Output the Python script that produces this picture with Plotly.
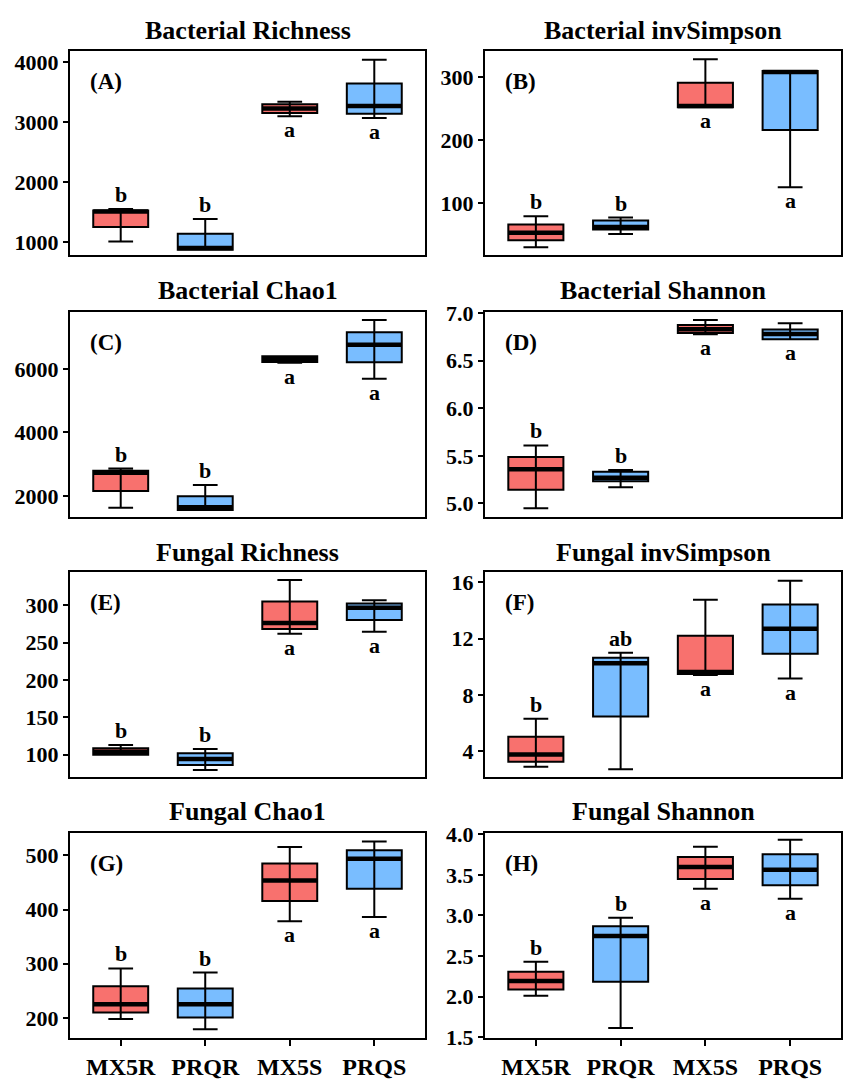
import plotly.graph_objects as go

groups = ["MX5R", "PRQR", "MX5S", "PRQS"]
fills = ["#F8716E", "#79BDFF", "#F8716E", "#79BDFF"]

# box summaries (lower whisker, q1, median, q3, upper whisker)
bac_rich = {"lower": [1010, 870, 3100, 3070], "q1": [1250, 870, 3155, 3140],
            "med": [1510, 900, 3230, 3270], "q3": [1525, 1140, 3300, 3645],
            "upper": [1550, 1385, 3340, 4040]}
bac_invs = {"lower": [30, 51, 252, 125], "q1": [41, 58, 252, 216],
            "med": [53, 62, 254, 308], "q3": [66, 72.5, 291, 309.5],
            "upper": [79, 77, 328, 309.5]}
bac_chao = {"lower": [1620, 1556, 6200, 5700], "q1": [2155, 1556, 6225, 6215],
            "med": [2730, 1640, 6330, 6770], "q3": [2795, 1990, 6410, 7165],
            "upper": [2860, 2340, 6410, 7550]}
bac_shan = {"lower": [4.95, 5.17, 6.777, 6.726], "q1": [5.144, 5.233, 6.79, 6.726],
            "med": [5.36, 5.27, 6.83, 6.78], "q3": [5.487, 5.333, 6.876, 6.828],
            "upper": [5.61, 5.35, 6.928, 6.894]}
fun_rich = {"lower": [100, 79.5, 261.6, 264.6], "q1": [100, 86, 268, 280.3],
            "med": [104, 94, 276, 296.5], "q3": [108.7, 101.7, 305, 302.2],
            "upper": [113, 107.4, 333.6, 306.6]}
fun_invs = {"lower": [2.91, 2.73, 9.42, 9.17], "q1": [3.26, 6.48, 9.49, 10.93],
            "med": [3.77, 10.25, 9.63, 12.7], "q3": [5.04, 10.65, 12.2, 14.42],
            "upper": [6.32, 11.0, 14.77, 16.12]}
fun_chao = {"lower": [198, 179, 378.6, 386.4], "q1": [210, 200.6, 415.8, 438.7],
            "med": [225, 225, 454, 494], "q3": [258.3, 254.1, 485, 509.6],
            "upper": [291.4, 283.6, 515.6, 525.9]}
fun_shan = {"lower": [2.01, 1.613, 3.329, 3.204], "q1": [2.087, 2.183, 3.449, 3.373],
            "med": [2.19, 2.746, 3.598, 3.562], "q3": [2.304, 2.867, 3.719, 3.755],
            "upper": [2.43, 2.971, 3.847, 3.932]}

letters_std = ["b", "b", "a", "a"]
letters_f = ["b", "ab", "a", "a"]

panels = [
    ("Bacterial Richness", "(A)", bac_rich, letters_std, [788, 4185], [1000, 2000, 3000, 4000], None),
    ("Bacterial invSimpson", "(B)", bac_invs, letters_std, [18, 341], [100, 200, 300], None),
    ("Bacterial Chao1", "(C)", bac_chao, letters_std, [1328, 7819], [2000, 4000, 6000], None),
    ("Bacterial Shannon", "(D)", bac_shan, letters_std, [4.856, 7.017], [5.0, 5.5, 6.0, 6.5, 7.0], ".1f"),
    ("Fungal Richness", "(E)", fun_rich, letters_std, [69.4, 344.5], [100, 150, 200, 250, 300], None),
    ("Fungal invSimpson", "(F)", fun_invs, letters_f, [2.14, 16.74], [4, 8, 12, 16], None),
    ("Fungal Chao1", "(G)", fun_chao, letters_std, [163, 541], [200, 300, 400, 500], None),
    ("Fungal Shannon", "(H)", fun_shan, letters_std, [1.49, 4.012], [1.5, 2.0, 2.5, 3.0, 3.5, 4.0], ".1f"),
]

W, H = 851, 1091
col_px = [(70, 425), (485, 841)]
row_px = [(41, 249), (307, 517), (573, 783), (840, 1049)]
title_px = [20, 286, 553, 818]
bw = 0.65
FONT = "Liberation Serif"

fig = go.Figure()
annotations = []
layout_axes = {}

for k, (title, tag, d, letters, yr, yt, yfmt) in enumerate(panels):
    r, c = divmod(k, 2)
    sfx = "" if k == 0 else str(k + 1)
    xa, ya = "x" + sfx, "y" + sfx
    x0, x1 = col_px[c]
    t, b = row_px[r]
    bottom = r == 3

    layout_axes["xaxis" + sfx] = dict(
        domain=[x0 / W, x1 / W], anchor=ya, range=[-0.6, 3.6],
        tickvals=list(range(len(groups))), ticktext=groups,
        showticklabels=bottom, ticks="outside" if bottom else "",
        ticklen=6, tickwidth=2, tickcolor="black",
        showline=True, mirror=True, linewidth=2, linecolor="black",
        showgrid=False, zeroline=False,
        tickfont=dict(family=FONT, size=24, color="black", weight="bold"),
    )
    layout_axes["yaxis" + sfx] = dict(
        domain=[1 - b / H, 1 - t / H], anchor=xa, range=yr, tickvals=yt,
        tickformat=yfmt, ticks="outside", ticklen=5, tickwidth=2, tickcolor="black",
        showline=True, mirror=True, linewidth=2, linecolor="black",
        showgrid=False, zeroline=False,
        tickfont=dict(family=FONT, size=22, color="black", weight="bold"),
    )

    for i, g in enumerate(groups):
        fig.add_trace(go.Box(
            x=[i], q1=[d["q1"][i]], median=[d["med"][i]], q3=[d["q3"][i]],
            lowerfence=[d["lower"][i]], upperfence=[d["upper"][i]],
            width=bw, whiskerwidth=0.45, boxpoints=False,
            fillcolor=fills[i], line=dict(color="black", width=2),
            xaxis=xa, yaxis=ya, hoverinfo="skip", showlegend=False,
        ))
        # errorbar line running through the box
        fig.add_trace(go.Scatter(
            x=[i, i], y=[d["q1"][i], d["q3"][i]], mode="lines",
            line=dict(color="black", width=2), xaxis=xa, yaxis=ya,
            hoverinfo="skip", showlegend=False,
        ))
        # fat median line
        fig.add_trace(go.Scatter(
            x=[i - bw / 2, i + bw / 2], y=[d["med"][i], d["med"][i]], mode="lines",
            line=dict(color="black", width=4.5), xaxis=xa, yaxis=ya,
            hoverinfo="skip", showlegend=False,
        ))
        if letters[i] == "a":
            annotations.append(dict(x=i, y=d["lower"][i], xref=xa, yref=ya,
                                    text=letters[i], showarrow=False,
                                    yanchor="top", yshift=1,
                                    font=dict(family=FONT, size=22, color="black", weight="bold")))
        else:
            annotations.append(dict(x=i, y=d["upper"][i], xref=xa, yref=ya,
                                    text=letters[i], showarrow=False,
                                    yanchor="bottom", yshift=0,
                                    font=dict(family=FONT, size=22, color="black", weight="bold")))

    annotations.append(dict(x=(x0 + x1) / 2 / W, y=1 - title_px[r] / H, xref="paper", yref="paper",
                            text=title, showarrow=False, xanchor="center", yanchor="middle",
                            font=dict(family=FONT, size=26, color="black", weight="bold")))
    annotations.append(dict(x=0.05, y=0.85, xref=xa + " domain", yref=ya + " domain",
                            text=tag, showarrow=False, xanchor="left", yanchor="middle",
                            font=dict(family=FONT, size=23, color="black", weight="bold")))

fig.update_layout(
    width=W, height=H, margin=dict(l=0, r=0, t=0, b=0),
    paper_bgcolor="white", plot_bgcolor="white",
    annotations=annotations, **layout_axes,
)

fig.write_html("out.html", config={"displayModeBar": False},
               post_script="document.body.style.margin='0';")
